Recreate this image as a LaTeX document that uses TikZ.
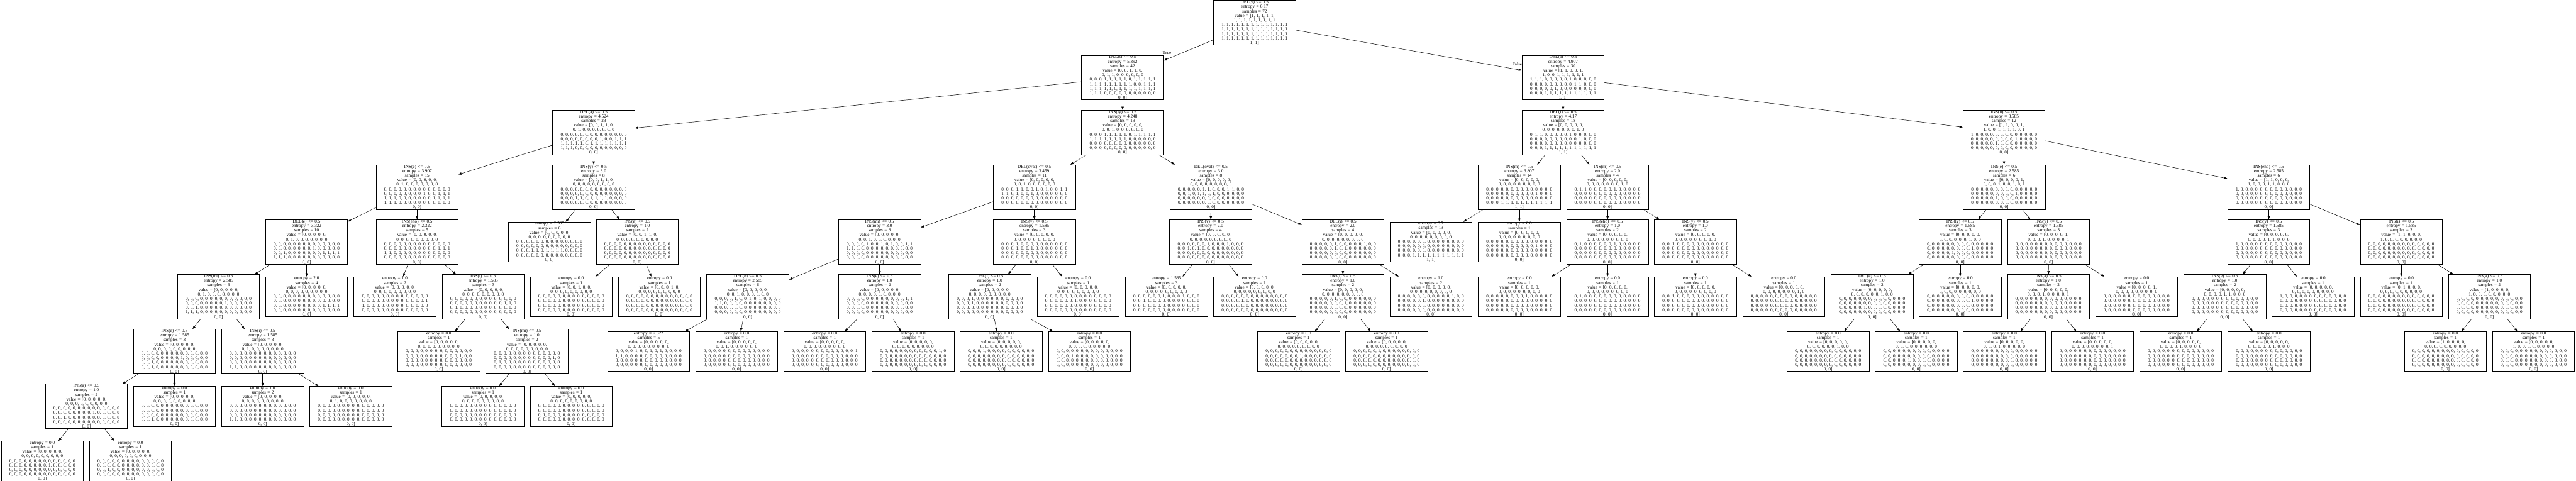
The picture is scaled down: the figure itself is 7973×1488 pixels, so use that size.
\documentclass[tikz,border=0pt]{standalone}
\usepackage{fontspec}
\setmainfont{Liberation Serif}
\usetikzlibrary{arrows.meta}
\newcount\vk
\def\vsep{\xdef\valstr{\valstr, }}
\def\vbrk{\xdef\valstr{\valstr\noexpand\\}}
\newcommand\mkval[1]{%
  \global\vk=0
  \loop\expandafter\gdef\csname vbit\the\vk\endcsname{0}\global\advance\vk by 1\relax\ifnum\vk<72\repeat
  \foreach \vidx in {#1}{\expandafter\gdef\csname vbit\vidx\endcsname{1}}%
  \gdef\valstr{value = [}%
  \global\vk=0
  \loop
    \xdef\valstr{\valstr\csname vbit\the\vk\endcsname}%
    \ifnum\vk=71 \xdef\valstr{\valstr]}\else
    \ifnum\vk=13 \vbrk\else
    \ifnum\vk=27 \vbrk\else
    \ifnum\vk=41 \vbrk\else
    \ifnum\vk=55 \vbrk\else
    \ifnum\vk=69 \vbrk\else
    \vsep\fi\fi\fi\fi\fi\fi
    \global\advance\vk by 1\relax
  \ifnum\vk<72\repeat}
\tikzset{
  sbox/.style={draw, line width=1.2pt, rectangle, minimum width=254pt, minimum height=134pt,
    inner sep=0pt, text width=250pt, align=center, font=\fontsize{14pt}{14pt}\selectfont},
  lbox/.style={sbox, minimum height=120pt},
  edge/.style={line width=1pt, -{Triangle[length=10pt,width=7pt]}},
  elab/.style={font=\fontsize{14pt}{14pt}\selectfont, inner sep=0pt}
}
\newcommand\SN[7]{\mkval{#7}\node[sbox] (#1) at (#2,{-70.5-169.6*#3}) {#4 <= 0.5\\entropy = #5\\samples = #6\\\valstr};}
\newcommand\LN[6]{\mkval{#6}\node[lbox] (#1) at (#2,{-70.5-169.6*#3}) {entropy = #4\\samples = #5\\\valstr};}
\begin{document}
\begin{tikzpicture}[x=1pt,y=1pt]
\useasboundingbox[fill=white] (0,0) rectangle (7973,-1488);
% row 0
\SN{n0}{3883}{0}{DEL(ý)}{6.17}{72}{0,...,71}
% row 1
\SN{n1}{3474.5}{1}{DEL(t)}{5.392}{42}{2,3,6,7,17,18,19,20,21,23,24,25,26,27,28,29,30,31,32,33,34,35,36,39,40,41,42,43,44,45,46,48,49,50,51,52,53,54,55,56,57,58}
\SN{n2}{4838}{1}{DEL(a)}{4.907}{30}{0,1,4,5,8,9,10,11,12,13,14,15,16,22,37,38,47,59,60,61,62,63,64,65,66,67,68,69,70,71}
% row 2
\SN{n3}{1837.5}{2}{DEL(a)}{4.524}{23}{2,3,6,36,39,40,41,42,43,44,45,46,48,49,50,51,52,53,54,55,56,57,58}
\SN{n4}{3474.5}{2}{INS(ly)}{4.248}{19}{7,17,18,19,20,21,23,24,25,26,27,28,29,30,31,32,33,34,35}
\SN{n5}{4838}{2}{DEL(t)}{4.17}{18}{12,15,16,22,38,59,60,61,62,63,64,65,66,67,68,69,70,71}
\SN{n6}{6202.5}{2}{INS(u)}{3.585}{12}{0,1,4,5,8,9,10,11,13,14,37,47}
% row 3
\SN{n7}{1291}{3}{INS(é)}{3.907}{15}{6,36,39,40,41,42,43,44,52,53,54,55,56,57,58}
\SN{n8}{1837.5}{3}{INS(y)}{3.0}{8}{2,3,45,46,48,49,50,51}
\SN{n9}{3201.5}{3}{DEL(ovat)}{3.459}{11}{7,17,18,21,23,26,27,28,29,31,34}
\SN{n10}{3748}{3}{DEL(ovat)}{3.0}{8}{19,20,24,25,30,32,33,35}
\SN{n11}{4702.5}{3}{INS(m)}{3.807}{14}{38,59,60,61,62,63,64,65,66,67,68,69,70,71}
\SN{n12}{4975.5}{3}{INS(m)}{2.0}{4}{12,15,16,22}
\SN{n13}{6203}{3}{INS(é)}{2.585}{6}{4,8,11,13,37,47}
\SN{n14}{7022}{3}{INS(ého)}{2.585}{6}{0,1,5,9,10,14}
% row 4
\SN{n15}{949}{4}{DEL(e)}{3.322}{10}{6,36,44,52,53,54,55,56,57,58}
\SN{n16}{1291}{4}{INS(ého)}{2.322}{5}{39,40,41,42,43}
\LN{l17}{1700.5}{4}{2.585}{6}{45,46,48,49,50,51}
\SN{n18}{1972.5}{4}{INS(ě)}{1.0}{2}{2,3}
\SN{n19}{2722.5}{4}{INS(mi)}{3.0}{8}{7,18,21,23,26,27,28,29}
\SN{n20}{3201.5}{4}{INS(v)}{1.585}{3}{17,31,34}
\SN{n21}{3747}{4}{INS(v)}{2.0}{4}{20,24,30,32}
\SN{n22}{4156.5}{4}{DEL(í)}{2.0}{4}{19,25,33,35}
\LN{l23}{4429}{4}{3.7}{13}{59,60,61,62,63,64,65,66,67,68,69,70,71}
\LN{l24}{4702.5}{4}{0.0}{1}{38}
\SN{n25}{4975.5}{4}{INS(ého)}{1.0}{2}{15,22}
\SN{n26}{5247.5}{4}{INS(y)}{1.0}{2}{12,16}
\SN{n27}{6067}{4}{INS(ly)}{1.585}{3}{11,37,47}
\SN{n28}{6340.5}{4}{INS(y)}{1.585}{3}{4,8,13}
\SN{n29}{7022}{4}{INS(y)}{1.585}{3}{9,10,14}
\SN{n30}{7432}{4}{INS(í)}{1.585}{3}{0,1,5}
% row 5
\SN{n31}{676.5}{5}{INS(mi)}{2.585}{6}{6,36,44,56,57,58}
\LN{l32}{949}{5}{2.0}{4}{52,53,54,55}
\LN{l33}{1222.5}{5}{1.0}{2}{41,42}
\SN{n34}{1495.5}{5}{INS(í)}{1.585}{3}{39,40,43}
\LN{l35}{1768}{5}{0.0}{1}{2}
\LN{l36}{2041}{5}{0.0}{1}{3}
\SN{n37}{2314.5}{5}{DEL(e)}{2.585}{6}{7,18,21,23,28,29}
\SN{n38}{2722.5}{5}{INS(ě)}{1.0}{2}{26,27}
\SN{n39}{3063.5}{5}{DEL(i)}{1.0}{2}{17,31}
\LN{l40}{3337}{5}{0.0}{1}{34}
\LN{l41}{3610}{5}{1.585}{3}{20,24,30}
\LN{l42}{3883}{5}{0.0}{1}{32}
\SN{n43}{4156.5}{5}{INS(l)}{1.0}{2}{19,35}
\LN{l44}{4429}{5}{1.0}{2}{25,33}
\LN{l45}{4702.5}{5}{0.0}{1}{22}
\LN{l46}{4975.5}{5}{0.0}{1}{15}
\LN{l47}{5247.5}{5}{0.0}{1}{16}
\LN{l48}{5521}{5}{0.0}{1}{12}
\SN{n49}{5794.5}{5}{DEL(e)}{1.0}{2}{11,47}
\LN{l50}{6067}{5}{0.0}{1}{37}
\SN{n51}{6340}{5}{INS(a)}{1.0}{2}{8,13}
\LN{l52}{6613}{5}{0.0}{1}{4}
\SN{n53}{6886}{5}{INS(ě)}{1.0}{2}{9,10}
\LN{l54}{7159}{5}{0.0}{1}{14}
\LN{l55}{7432}{5}{0.0}{1}{1}
\SN{n56}{7705}{5}{INS(a)}{1.0}{2}{0,5}
% row 6
\SN{n57}{540}{6}{INS(ě)}{1.585}{3}{36,44,58}
\SN{n58}{813}{6}{INS(i)}{1.585}{3}{6,56,57}
\LN{l59}{1358}{6}{0.0}{1}{39}
\SN{n60}{1631}{6}{INS(mi)}{1.0}{2}{40,43}
\LN{l61}{2007.5}{6}{2.322}{5}{18,21,23,28,29}
\LN{l62}{2280}{6}{0.0}{1}{7}
\LN{l63}{2552.5}{6}{0.0}{1}{27}
\LN{l64}{2826}{6}{0.0}{1}{26}
\LN{l65}{3098.5}{6}{0.0}{1}{17}
\LN{l66}{3372}{6}{0.0}{1}{31}
\LN{l67}{4019}{6}{0.0}{1}{35}
\LN{l68}{4291.5}{6}{0.0}{1}{19}
\LN{l69}{5658}{6}{0.0}{1}{11}
\LN{l70}{5931}{6}{0.0}{1}{47}
\LN{l71}{6203.5}{6}{0.0}{1}{8}
\LN{l72}{6476.5}{6}{0.0}{1}{13}
\LN{l73}{6749.5}{6}{0.0}{1}{9}
\LN{l74}{7022.5}{6}{0.0}{1}{10}
\LN{l75}{7568.5}{6}{0.0}{1}{0}
\LN{l76}{7841.5}{6}{0.0}{1}{5}
% row 7
\SN{n77}{267.5}{7}{INS(a)}{1.0}{2}{36,44}
\LN{l78}{540}{7}{0.0}{1}{58}
\LN{l79}{813}{7}{1.0}{2}{56,57}
\LN{l80}{1086}{7}{0.0}{1}{6}
\LN{l81}{1495}{7}{0.0}{1}{40}
\LN{l82}{1768}{7}{0.0}{1}{43}
% row 8
\LN{l83}{131}{8}{0.0}{1}{36}
\LN{l84}{404}{8}{0.0}{1}{44}
% edges
\draw[edge] (n0) -- (n1);
\draw[edge] (n0) -- (n2);
\node[elab] (tlab) at (3612,-164) {True};
\node[elab] (flab) at (4696,-198) {False};
\foreach \p/\c in {n1/n3,n1/n4,n2/n5,n2/n6,n3/n7,n3/n8,n4/n9,n4/n10,n5/n11,n5/n12,n6/n13,n6/n14,
  n7/n15,n7/n16,n8/l17,n8/n18,n9/n19,n9/n20,n10/n21,n10/n22,n11/l23,n11/l24,n12/n25,n12/n26,
  n13/n27,n13/n28,n14/n29,n14/n30,n15/n31,n15/l32,n16/l33,n16/n34,n18/l35,n18/l36,n19/n37,n19/n38,
  n20/n39,n20/l40,n21/l41,n21/l42,n22/n43,n22/l44,n25/l45,n25/l46,n26/l47,n26/l48,n27/n49,n27/l50,
  n28/n51,n28/l52,n29/n53,n29/l54,n30/l55,n30/n56,n31/n57,n31/n58,n34/l59,n34/n60,n37/l61,n37/l62,
  n38/l63,n38/l64,n39/l65,n39/l66,n43/l67,n43/l68,n49/l69,n49/l70,n51/l71,n51/l72,n53/l73,n53/l74,
  n56/l75,n56/l76,n57/n77,n57/l78,n58/l79,n58/l80,n60/l81,n60/l82,n77/l83,n77/l84}
  \draw[edge] (\p) -- (\c);
\end{tikzpicture}
\end{document}
